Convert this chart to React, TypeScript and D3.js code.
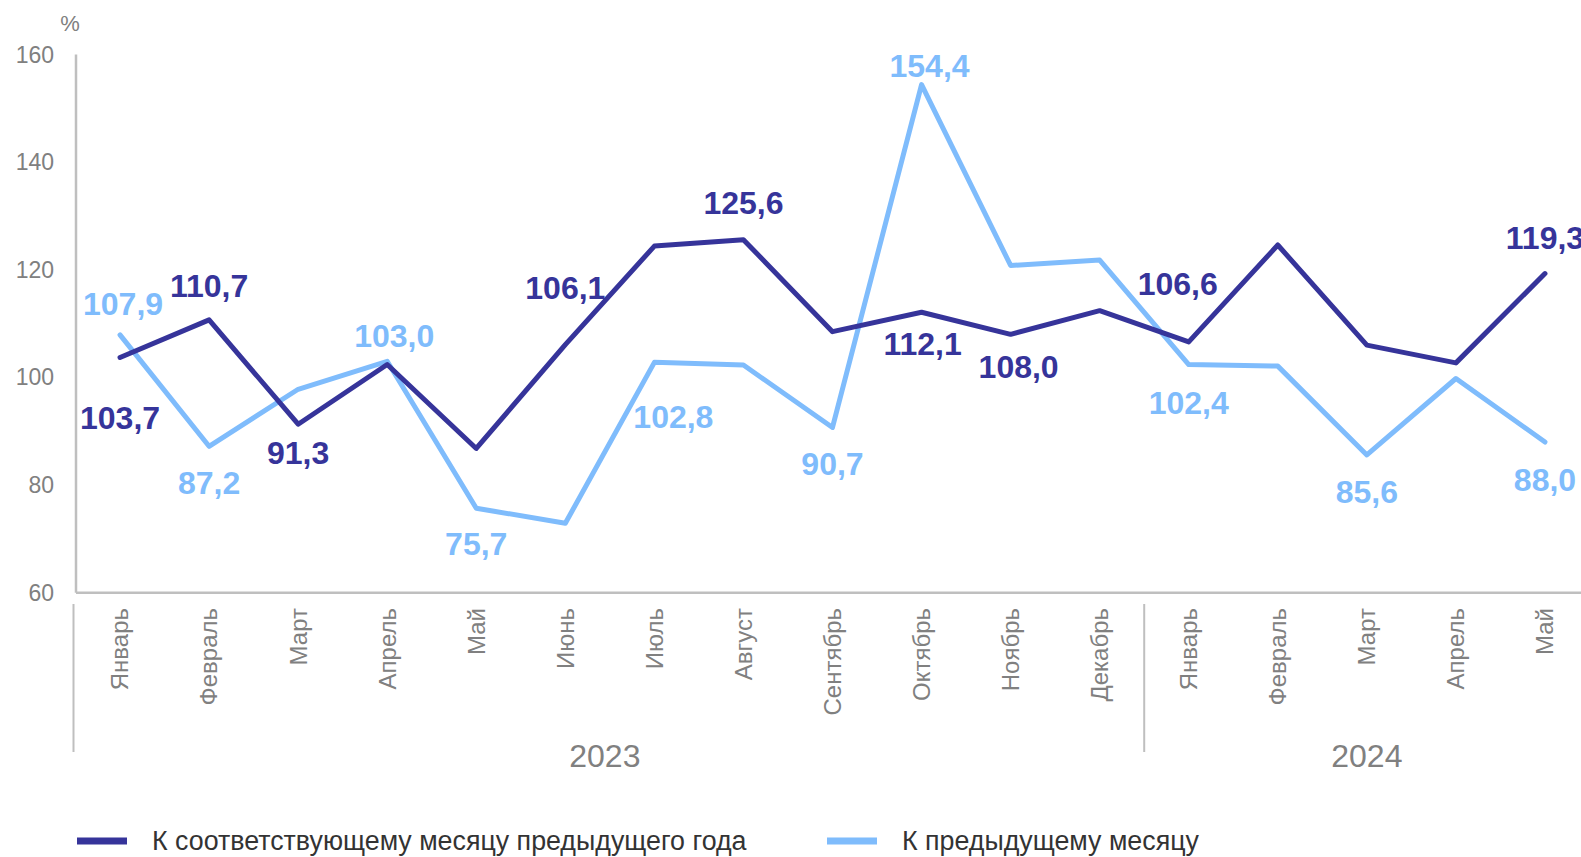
import React, { useEffect, useRef } from "react";
import * as d3 from "d3";

const months = [
  "Январь", "Февраль", "Март", "Апрель", "Май", "Июнь", "Июль", "Август",
  "Сентябрь", "Октябрь", "Ноябрь", "Декабрь",
  "Январь", "Февраль", "Март", "Апрель", "Май",
];
const years = [
  { label: "2023", from: 0, to: 11 },
  { label: "2024", from: 12, to: 16 },
];

// К соответствующему месяцу предыдущего года
const yoyValues = [
  103.7, 110.7, 91.3, 102.4, 86.8, 106.1, 124.4, 125.6, 108.5, 112.1, 108.0,
  112.4, 106.6, 124.6, 106.0, 102.7, 119.3,
];
// К предыдущему месяцу
const momValues = [
  107.9, 87.2, 97.8, 103.0, 75.7, 72.9, 102.8, 102.3, 90.7, 154.4, 120.8,
  121.8, 102.4, 102.1, 85.6, 99.8, 88.0,
];
const yTicks = [60, 80, 100, 120, 140, 160];

const seriesNames = [
  "К соответствующему месяцу предыдущего года",
  "К предыдущему месяцу",
];

// label placement (index -> [dx, dy] from the point), only labelled points
const yoyLabelPos: Record<number, [number, number]> = {
  0: [0, 71], 1: [0, -23], 2: [0, 40], 5: [0, -46], 7: [0, -26],
  9: [1, 43], 10: [8, 44], 12: [-11, -47], 16: [0, -25],
};
const momLabelPos: Record<number, [number, number]> = {
  0: [3, -20], 1: [0, 48], 3: [7, -14], 4: [0, 47], 6: [19, 66],
  8: [0, 48], 9: [8, -8], 12: [0, 49], 14: [0, 48], 16: [0, 49],
};

const DARK = "#36349a";
const LIGHT = "#7fbcfc";
const GRAY = "#808080";
const AXIS = "#bfbfbf";
const FONT = "'Liberation Sans', Arial, sans-serif";

export default function App() {
  const svgRef = useRef<SVGSVGElement>(null);

  useEffect(() => {
    const svg = d3.select(svgRef.current);
    svg.selectAll("*").remove();

    const x = d3
      .scaleBand<number>()
      .domain(months.map((_, i) => i))
      .range([75.5, 1589.5]);
    const y = d3.scaleLinear().domain([60, 160]).range([592.7, 54.5]);
    const cx = (i: number) => (x(i) as number) + x.bandwidth() / 2;

    // y tick labels
    svg
      .append("g")
      .selectAll("text")
      .data(yTicks)
      .join("text")
      .attr("x", 54)
      .attr("y", (d) => y(d))
      .attr("dy", "0.35em")
      .attr("text-anchor", "end")
      .attr("font-size", 23)
      .attr("fill", GRAY)
      .text((d) => d);

    svg
      .append("text")
      .attr("x", 70)
      .attr("y", 31)
      .attr("text-anchor", "middle")
      .attr("font-size", 22)
      .attr("fill", GRAY)
      .text("%");

    // axes lines
    svg
      .append("line")
      .attr("x1", 76)
      .attr("x2", 76)
      .attr("y1", y(160))
      .attr("y2", y(60))
      .attr("stroke", AXIS)
      .attr("stroke-width", 2.5);
    svg
      .append("line")
      .attr("x1", 76)
      .attr("x2", 1581)
      .attr("y1", y(60))
      .attr("y2", y(60))
      .attr("stroke", AXIS)
      .attr("stroke-width", 2.5);

    // month labels
    svg
      .append("g")
      .selectAll("text")
      .data(months)
      .join("text")
      .attr("transform", (_, i) => `translate(${cx(i)},608) rotate(-90)`)
      .attr("dy", "0.35em")
      .attr("text-anchor", "end")
      .attr("font-size", 24)
      .attr("fill", GRAY)
      .text((d) => d);

    // year separators and labels
    const seps = [0, 12];
    svg
      .append("g")
      .selectAll("line")
      .data(seps)
      .join("line")
      .attr("x1", (i) => (x(i) as number) - (i === 0 ? 2 : 0))
      .attr("x2", (i) => (x(i) as number) - (i === 0 ? 2 : 0))
      .attr("y1", 604)
      .attr("y2", 752)
      .attr("stroke", AXIS)
      .attr("stroke-width", 2);

    svg
      .append("g")
      .selectAll("text")
      .data(years)
      .join("text")
      .attr(
        "x",
        (d, i) =>
          ((x(d.from) as number) + (x(d.to) as number) + x.bandwidth()) / 2 -
          (i === 0 ? 5 : 0)
      )
      .attr("y", 767)
      .attr("text-anchor", "middle")
      .attr("font-size", 32)
      .attr("fill", GRAY)
      .text((d) => d.label);

    // lines
    const line = d3
      .line<number>()
      .x((_, i) => cx(i))
      .y((d) => y(d));

    const series = [
      { values: momValues, color: LIGHT, labels: momLabelPos },
      { values: yoyValues, color: DARK, labels: yoyLabelPos },
    ];

    series.forEach((s) => {
      svg
        .append("path")
        .attr("d", line(s.values))
        .attr("fill", "none")
        .attr("stroke", s.color)
        .attr("stroke-width", 5)
        .attr("stroke-linejoin", "round")
        .attr("stroke-linecap", "round");
    });

    series.forEach((s) => {
      const idx = Object.keys(s.labels).map(Number);
      svg
        .append("g")
        .selectAll("text")
        .data(idx)
        .join("text")
        .attr("x", (i) => cx(i) + s.labels[i][0])
        .attr("y", (i) => y(s.values[i]) + s.labels[i][1])
        .attr("text-anchor", "middle")
        .attr("font-size", 32)
        .attr("font-weight", "bold")
        .attr("fill", s.color)
        .text((i) => s.values[i].toFixed(1).replace(".", ","));
    });

    // legend
    const legend = [
      { name: seriesNames[0], color: DARK, x: 77 },
      { name: seriesNames[1], color: LIGHT, x: 827 },
    ];
    const lg = svg
      .append("g")
      .selectAll("g")
      .data(legend)
      .join("g")
      .attr("transform", (d) => `translate(${d.x},841)`);
    lg.append("line")
      .attr("x1", 0)
      .attr("x2", 50)
      .attr("stroke", (d) => d.color)
      .attr("stroke-width", 7);
    lg.append("text")
      .attr("x", 75)
      .attr("y", 9)
      .attr("font-size", 26.8)
      .attr("fill", "#333333")
      .text((d) => d.name);
  }, []);

  return (
    <svg
      ref={svgRef}
      width={1581}
      height={857}
      style={{ position: "absolute", left: 0, top: 0, fontFamily: FONT }}
    />
  );
}
